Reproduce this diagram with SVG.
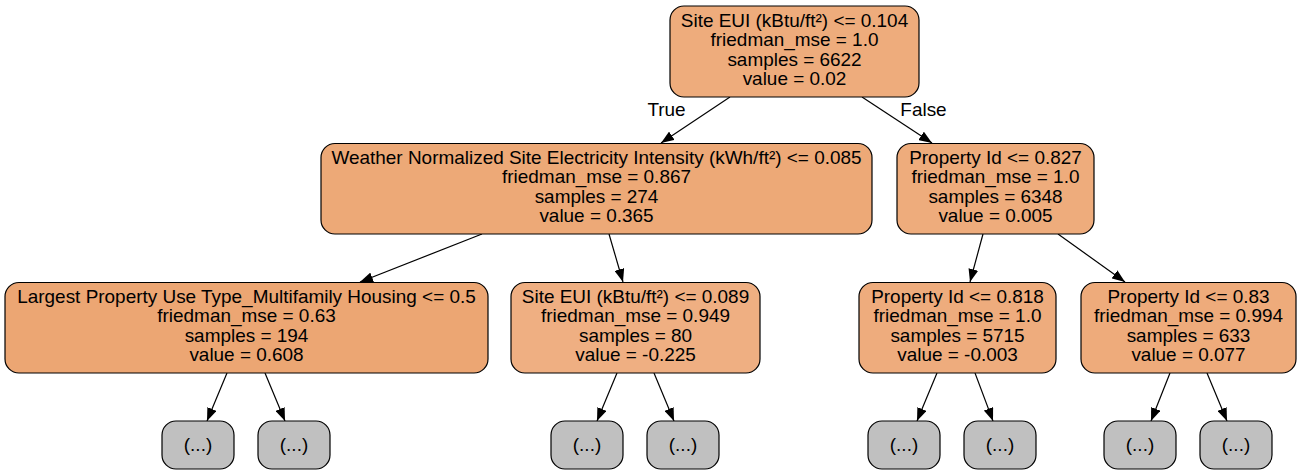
<svg xmlns="http://www.w3.org/2000/svg" width="1301" height="475" viewBox="0 0 1301 475">
<style>
text{font-family:"Liberation Sans",Arial,sans-serif;font-size:18.95px;fill:#000;text-anchor:middle}
.n{stroke:#000;stroke-width:1.2}
.leaf{fill:#c0c0c0;stroke:#000;stroke-width:1.2}
.e{stroke:#000;stroke-width:1.2;fill:none;marker-end:url(#ah)}
</style>
<defs>
<marker id="ah" viewBox="0 0 13 10" refX="13" refY="5" markerWidth="13" markerHeight="10" markerUnits="userSpaceOnUse" orient="auto">
<path d="M0,0 L13,5 L0,10 z" fill="#000"/>
</marker>
</defs>
<rect width="1301" height="475" fill="#fff"/>
<g id="edges">
<line class="e" x1="730" y1="97" x2="661" y2="143"/>
<line class="e" x1="862" y1="97" x2="932" y2="143"/>
<text x="666.5" y="116">True</text>
<text x="923.5" y="116">False</text>
<line class="e" x1="482" y1="234" x2="360" y2="282"/>
<line class="e" x1="609" y1="234" x2="623" y2="282"/>
<line class="e" x1="983" y1="234" x2="970" y2="282"/>
<line class="e" x1="1058" y1="234" x2="1125" y2="282"/>
<line class="e" x1="227" y1="373" x2="207" y2="421"/>
<line class="e" x1="265" y1="373" x2="285" y2="421"/>
<line class="e" x1="617" y1="373" x2="597" y2="421"/>
<line class="e" x1="654" y1="373" x2="674" y2="421"/>
<line class="e" x1="937" y1="373" x2="917" y2="421"/>
<line class="e" x1="975" y1="373" x2="993" y2="421"/>
<line class="e" x1="1170" y1="373" x2="1151" y2="421"/>
<line class="e" x1="1207" y1="373" x2="1227" y2="421"/>
</g>
<g id="node0">
<rect class="n" x="670" y="6" width="249" height="91" rx="14" fill="#eeac7c"/>
<text x="794.5" y="27">Site EUI (kBtu/ft²) &lt;= 0.104</text>
<text x="794.5" y="46.3">friedman_mse = 1.0</text>
<text x="794.5" y="65.6">samples = 6622</text>
<text x="794.5" y="84.9">value = 0.02</text>
</g>
<g id="node1">
<rect class="n" x="321" y="143.5" width="551" height="90.5" rx="14" fill="#eda977"/>
<text x="596.5" y="164">Weather Normalized Site Electricity Intensity (kWh/ft²) &lt;= 0.085</text>
<text x="596.5" y="183.3">friedman_mse = 0.867</text>
<text x="596.5" y="202.6">samples = 274</text>
<text x="596.5" y="221.9">value = 0.365</text>
</g>
<g id="node2">
<rect class="n" x="897" y="143.5" width="197" height="90.5" rx="14" fill="#eeac7c"/>
<text x="995.5" y="164">Property Id &lt;= 0.827</text>
<text x="995.5" y="183.3">friedman_mse = 1.0</text>
<text x="995.5" y="202.6">samples = 6348</text>
<text x="995.5" y="221.9">value = 0.005</text>
</g>
<g id="node3">
<rect class="n" x="5" y="282.5" width="483" height="90.5" rx="14" fill="#eca673"/>
<text x="246.5" y="303">Largest Property Use Type_Multifamily Housing &lt;= 0.5</text>
<text x="246.5" y="322.3">friedman_mse = 0.63</text>
<text x="246.5" y="341.6">samples = 194</text>
<text x="246.5" y="360.9">value = 0.608</text>
</g>
<g id="node4">
<rect class="n" x="511" y="282.5" width="249" height="90.5" rx="14" fill="#efaf82"/>
<text x="635.5" y="303">Site EUI (kBtu/ft²) &lt;= 0.089</text>
<text x="635.5" y="322.3">friedman_mse = 0.949</text>
<text x="635.5" y="341.6">samples = 80</text>
<text x="635.5" y="360.9">value = -0.225</text>
</g>
<g id="node5">
<rect class="n" x="859" y="282.5" width="197" height="90.5" rx="14" fill="#eeac7d"/>
<text x="957.5" y="303">Property Id &lt;= 0.818</text>
<text x="957.5" y="322.3">friedman_mse = 1.0</text>
<text x="957.5" y="341.6">samples = 5715</text>
<text x="957.5" y="360.9">value = -0.003</text>
</g>
<g id="node6">
<rect class="n" x="1081" y="282.5" width="215" height="90.5" rx="14" fill="#eeab7b"/>
<text x="1188.5" y="303">Property Id &lt;= 0.83</text>
<text x="1188.5" y="322.3">friedman_mse = 0.994</text>
<text x="1188.5" y="341.6">samples = 633</text>
<text x="1188.5" y="360.9">value = 0.077</text>
</g>
<g id="leaf1"><rect class="leaf" x="162" y="421" width="72" height="48" rx="14"/><text x="198" y="451">(...)</text></g>
<g id="leaf2"><rect class="leaf" x="258" y="421" width="72" height="48" rx="14"/><text x="294" y="451">(...)</text></g>
<g id="leaf3"><rect class="leaf" x="551" y="421" width="72" height="48" rx="14"/><text x="587" y="451">(...)</text></g>
<g id="leaf4"><rect class="leaf" x="647" y="421" width="72" height="48" rx="14"/><text x="683" y="451">(...)</text></g>
<g id="leaf5"><rect class="leaf" x="868" y="421" width="72" height="48" rx="14"/><text x="904" y="451">(...)</text></g>
<g id="leaf6"><rect class="leaf" x="964" y="421" width="72" height="48" rx="14"/><text x="1000" y="451">(...)</text></g>
<g id="leaf7"><rect class="leaf" x="1104" y="421" width="72" height="48" rx="14"/><text x="1140" y="451">(...)</text></g>
<g id="leaf8"><rect class="leaf" x="1200" y="421" width="72" height="48" rx="14"/><text x="1236" y="451">(...)</text></g>
</svg>
